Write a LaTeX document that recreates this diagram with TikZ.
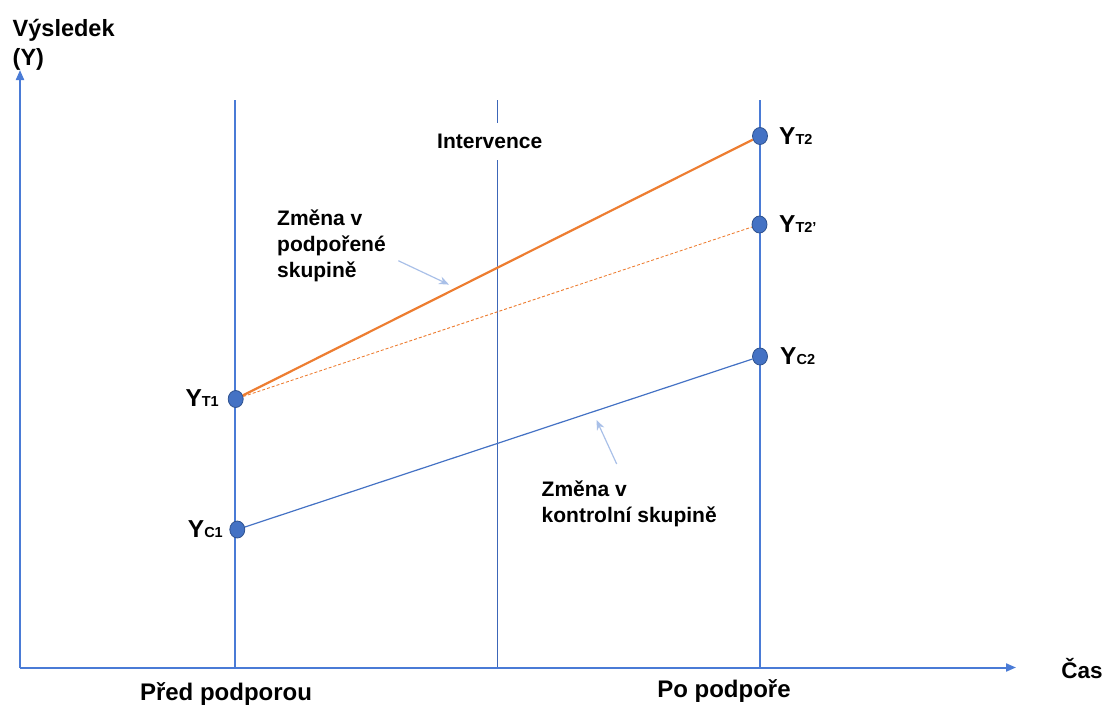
\documentclass[tikz,border=0pt]{standalone}
\usepackage{fontspec}
\setmainfont{Liberation Sans}
\usetikzlibrary{arrows.meta,shapes.geometric}
\definecolor{axblue}{HTML}{4A7BD6}
\definecolor{midblue}{HTML}{3C66B8}
\definecolor{dotfill}{HTML}{4472C4}
\definecolor{dotedge}{HTML}{2F528F}
\definecolor{orng}{HTML}{ED7D31}
\definecolor{lightarr}{HTML}{A9C0E8}
\tikzset{
  lbl/.style={font=\bfseries\fontsize{21}{26}\selectfont, text=black, inner sep=0pt},
  biglbl/.style={font=\bfseries\fontsize{24}{28}\selectfont, text=black, inner sep=0pt},
  ylbl/.style={font=\bfseries, text=black, inner sep=0pt},
  dot/.style={ellipse, fill=dotfill, draw=dotedge, line width=0.8pt, minimum width=15pt, minimum height=17pt, inner sep=0pt},
  axis/.style={draw=axblue, line width=2pt, -{Triangle[length=10pt,width=8pt]}},
  vline/.style={draw=axblue, line width=1.2pt},
  hint/.style={draw=lightarr, line width=1.2pt, -{Stealth[length=10pt,width=8pt]}},
}
\newcommand{\Ylab}[1]{{\fontsize{24.5}{24}\selectfont Y}{\fontsize{14.5}{14.5}\selectfont #1}}
\begin{document}
\begin{tikzpicture}[x=1pt,y=-1pt]
\useasboundingbox (0,0) rectangle (1105,705);
% axes
\coordinate (o) at (20,667.5);
\coordinate (ytip) at (20,70);
\coordinate (xtip) at (1016,667.5);
% vertical lines
\coordinate (l1t) at (235,100);
\coordinate (l1b) at (235,667.5);
\coordinate (l2t) at (497.3,100);
\coordinate (l2b) at (497.3,667.5);
\coordinate (l3t) at (760,100);
\coordinate (l3b) at (760,667.5);
\draw[vline] (l1t) -- (l1b);
\draw[vline, draw=midblue] (l2t) -- (l2b);
\draw[vline] (l3t) -- (l3b);
\draw[axis] (o) -- (ytip);
\draw[axis] (o) -- (xtip);
% intervention label
\node[lbl, fill=white, inner xsep=3pt, minimum height=37pt] (interv) at (489.7,141.5) {Intervence};
% dots
\node[dot] (t1) at (235.7,399) {};
\node[dot] (c1) at (237.3,529.5) {};
\node[dot] (t2) at (760,136) {};
\node[dot] (t2p) at (759.5,224.5) {};
\node[dot] (c2) at (760,356.5) {};
% connectors
\draw[orng, line width=2.2pt] (t1) -- (t2);
\draw[orng, line width=0.9pt, dash pattern=on 3pt off 2pt] (t1) -- (t2p);
\draw[dotfill, line width=1.2pt] (c1) -- (c2);
% point labels
\node[ylbl, anchor=east] (lt1) at (219,398.5) {\Ylab{T1}};
\node[ylbl, anchor=east] (lc1) at (223,529) {\Ylab{C1}};
\node[ylbl, anchor=west] (lt2) at (779,136.5) {\Ylab{T2}};
\node[ylbl, anchor=west] (lt2p) at (779,224.5) {\Ylab{T2’}};
\node[ylbl, anchor=west] (lc2) at (780,356) {\Ylab{C2}};
% annotation labels
\node[lbl, align=left, anchor=north west] (zt) at (277,210) {Změna v\\podpořené\\skupině};
\node[lbl, align=left, anchor=north west] (zc) at (541.5,481) {Změna v\\kontrolní skupině};
\coordinate (a1s) at (398.3,260.7);
\coordinate (a1e) at (449,284.6);
\coordinate (a2s) at (616.7,464);
\coordinate (a2e) at (596.5,420);
\draw[hint] (a1s) -- (a1e);
\draw[hint] (a2s) -- (a2e);
% axis labels
\node[lbl, align=left, anchor=north west, font=\bfseries\fontsize{23.5}{29}\selectfont] (ylab) at (12.5,19.5) {Výsledek\\(Y)};
\node[lbl, font=\bfseries\fontsize{22.5}{26}\selectfont] (xlab) at (1082,669) {Čas};
\node[biglbl] (pred) at (226,694) {Před podporou};
\node[biglbl] (po) at (724,691.5) {Po podpoře};
\end{tikzpicture}
\end{document}
